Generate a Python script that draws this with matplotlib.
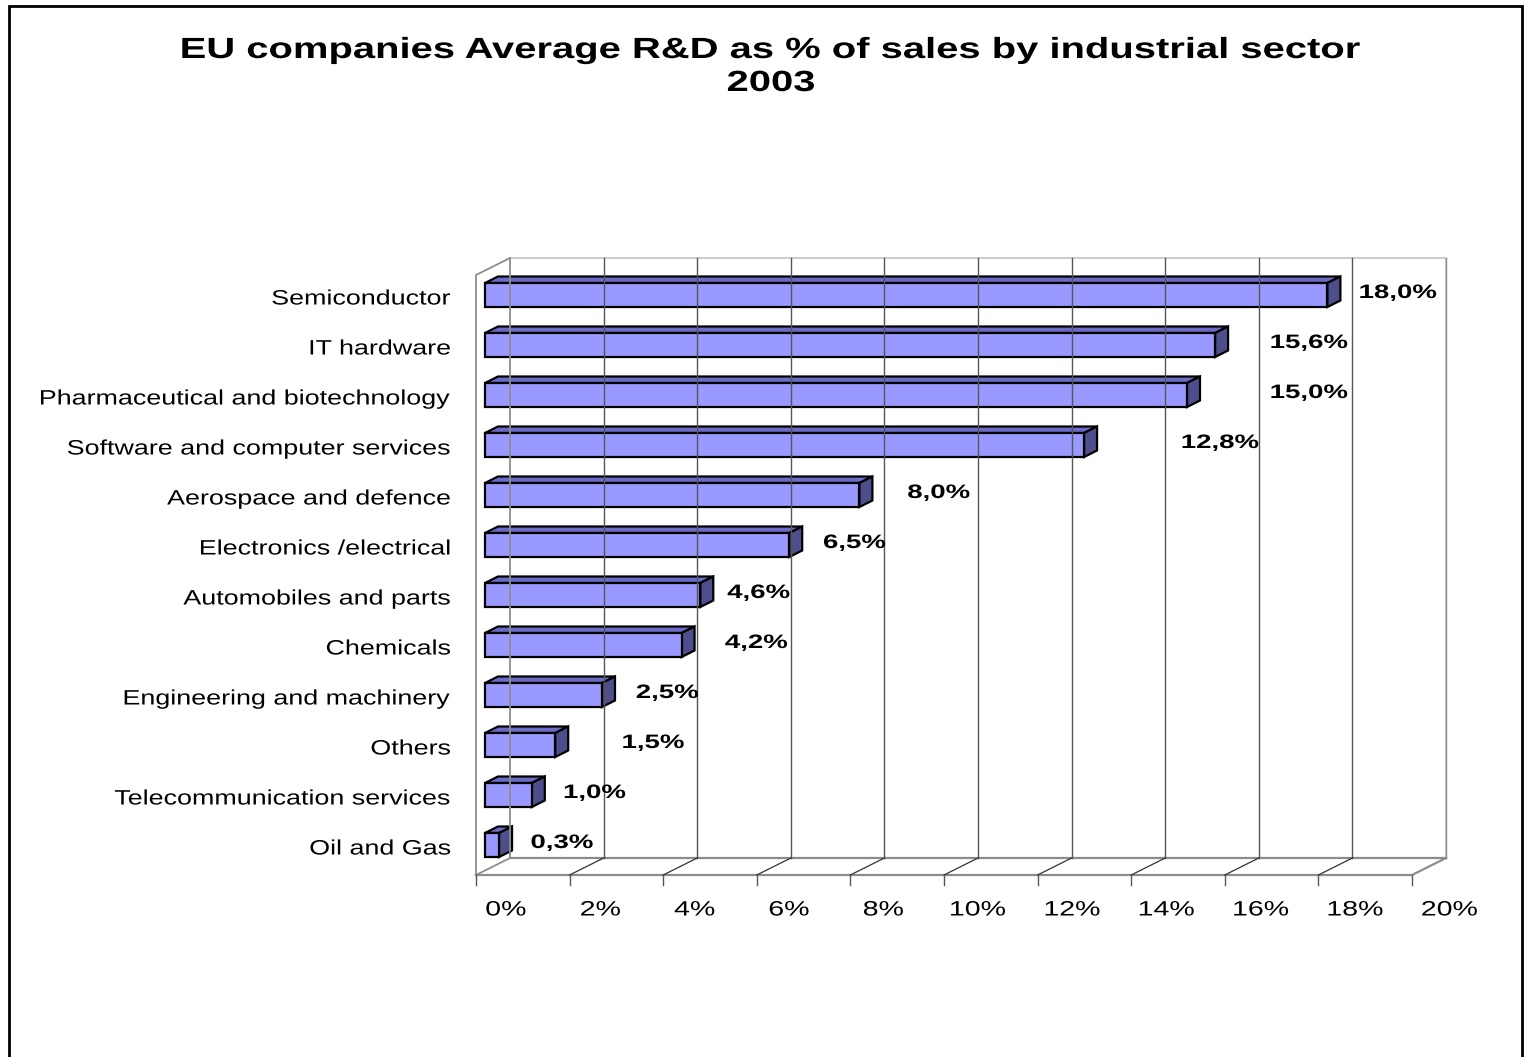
import matplotlib.pyplot as plt
from matplotlib.patches import Polygon, Rectangle
from matplotlib import patheffects
from matplotlib.transforms import Affine2D

# data
sectors = ["Semiconductor", "IT hardware", "Pharmaceutical and biotechnology",
           "Software and computer services", "Aerospace and defence",
           "Electronics /electrical", "Automobiles and parts", "Chemicals",
           "Engineering and machinery", "Others", "Telecommunication services",
           "Oil and Gas"]
rd_share = [18.0, 15.6, 15.0, 12.8, 8.0, 6.5, 4.6, 4.2, 2.5, 1.5, 1.0, 0.3]
label_nudge = [0.4, 0.9, 1.5, 1.8, 0.75, 0.45, 0.3, 0.65, 0.45, 1.15, 0.4, 0.4]
x_ticks = [0, 2, 4, 6, 8, 10, 12, 14, 16, 18, 20]

plt.rcParams['font.family'] = ['Liberation Sans', 'DejaVu Sans']


class Stretch(patheffects.AbstractPathEffect):
    """widen glyphs horizontally (the original text is stretched)"""
    def __init__(self, sx, anchor=0.0):
        super().__init__()
        self.sx = sx
        self.anchor = anchor

    def draw_path(self, renderer, gc, tpath, affine, rgbFace=None):
        ext = tpath.get_extents()
        px = ext.x0 + self.anchor * ext.width
        t = Affine2D().translate(-px, 0).scale(self.sx, 1).translate(px, 0)
        renderer.draw_path(gc, tpath, t + affine, rgbFace)


W, H = 1530, 1057
fig = plt.figure(figsize=(W / 100, H / 100), dpi=100)

# outer frame
frame = fig.add_axes([0, 0, 1, 1])
frame.set_xlim(0, W)
frame.set_ylim(H, 0)
frame.axis('off')
frame.plot([9, 9, 1522, 1522], [H + 5, 5.5, 5.5, H + 5], color='black', lw=2,
           solid_joinstyle='miter')

title_fx = [Stretch(1.37, 0.5)]
fig.text(770 / W, 1 - 50 / H, "EU companies Average R&D as % of sales by industrial sector",
         ha='center', va='center', fontsize=21, fontweight='bold', path_effects=title_fx)
fig.text(771 / W, 1 - 83 / H, "2003", ha='center', va='center',
         fontsize=21, fontweight='bold', path_effects=title_fx)

# plot area: front plane 0..20 %, categories 0..11
x0, x1 = 476, 1412
ytop, ybot = 275, 875
ax = fig.add_axes([x0 / W, 1 - ybot / H, (x1 - x0) / W, (ybot - ytop) / H])
ax.set_xlim(0, 20)
ax.set_ylim(11.6, -0.4)
ax.axis('off')

px_x = 20 / (x1 - x0)
px_y = 12 / (ybot - ytop)
wdx, wdy = 34 * px_x, -17 * px_y      # back wall depth offset
fy = 11.6                             # floor front
ty = -0.4                             # wall top (front plane)

wall_c = '#8c8c8c'
# side wall + floor outline
ax.plot([0, 0, wdx], [fy, ty, ty + wdy], color=wall_c, lw=1.3, clip_on=False)
ax.plot([0, wdx], [fy, fy + wdy], color=wall_c, lw=1.3, clip_on=False)
ax.plot([wdx, 20 + wdx, 20 + wdx], [ty + wdy, ty + wdy, fy + wdy],
        color='#c8c8c8', lw=1.3, clip_on=False)
ax.plot([wdx, 20 + wdx], [fy + wdy, fy + wdy], color=wall_c, lw=1.6, clip_on=False)
ax.plot([0, 20, 20 + wdx], [fy, fy, fy + wdy], color=wall_c, lw=1.6, clip_on=False)

tick_fx = [Stretch(1.37, 0.5)]
for t in x_ticks:
    if t != 0:
        ax.plot([t + wdx, t + wdx], [fy + wdy, ty + wdy],
                color='#555555' if t < 20 else wall_c, lw=1.0, clip_on=False)
    if 0 < t < 20:
        ax.plot([t, t + wdx], [fy, fy + wdy], color='#333333', lw=0.9, clip_on=False)
    ax.plot([t, t], [fy, fy + 10 * px_y], color='#555555', lw=1.0, clip_on=False)
    ax.text(t * 1.008 + 30 * px_x, fy + 35 * px_y, f"{t}%", ha='center', va='center',
            fontsize=15, clip_on=False, path_effects=tick_fx)
ax.plot([wdx, wdx], [fy + wdy, ty + wdy], color=wall_c, lw=1.3, clip_on=False)

# 3D bars
bx = 9 * px_x
bh = 0.48
ddx, ddy = 13 * px_x, -6.5 * px_y
front_c, top_c, side_c = '#9999ff', '#6b6bc8', '#4e4e8c'
val_fx = [Stretch(1.42, 0.0)]
cat_fx = [Stretch(1.29, 1.0)]
for i, (name, v) in enumerate(zip(sectors, rd_share)):
    yt, yb = i - bh / 2, i + bh / 2
    xl, xr = bx, bx + v
    ax.add_patch(Polygon([(xl, yt), (xl + ddx, yt + ddy), (xr + ddx, yt + ddy), (xr, yt)],
                         closed=True, fc=top_c, ec='black', lw=1.6, clip_on=False))
    ax.add_patch(Polygon([(xr, yt), (xr + ddx, yt + ddy), (xr + ddx, yb + ddy), (xr, yb)],
                         closed=True, fc=side_c, ec='black', lw=1.6, clip_on=False))
    ax.add_patch(Rectangle((xl, yt), v, bh, fc=front_c, ec='black', lw=1.6, clip_on=False))
    ax.text(xr + ddx + label_nudge[i], i - 0.03, f"{v:.1f}%".replace('.', ','),
            ha='left', va='center', fontsize=14, fontweight='bold', clip_on=False,
            path_effects=val_fx)
    ax.text(-25 * px_x, i + 0.08, name, ha='right', va='center', fontsize=15,
            clip_on=False, path_effects=cat_fx)

fig.savefig('out.png', dpi=100)
